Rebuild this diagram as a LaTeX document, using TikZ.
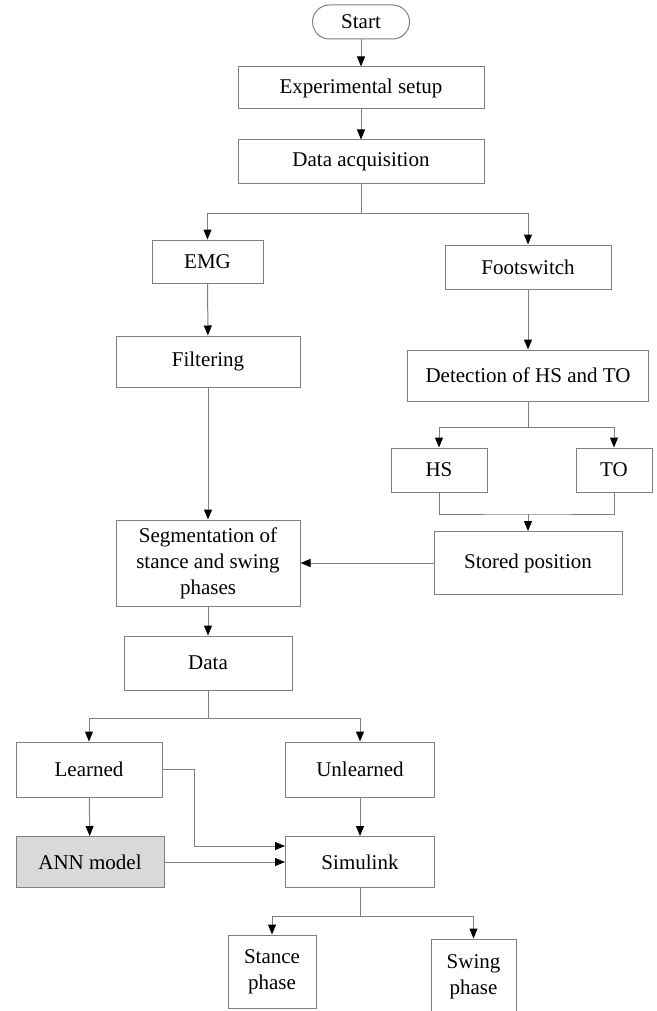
\documentclass[tikz,border=0pt]{standalone}
\usepackage{fontspec}
\setmainfont{Liberation Serif}
\usetikzlibrary{arrows.meta}
\definecolor{flowline}{HTML}{808080}
\definecolor{annfill}{HTML}{D9D9D9}
\tikzset{
  box/.style={draw=flowline,line width=1pt,fill=white,inner sep=2pt,align=center,
    font=\fontsize{21}{26}\selectfont},
  link/.style={draw=flowline,line width=1pt},
  arr/.style={link,-{Triangle[length=10pt,width=8pt,color=black]}}
}
\begin{document}
\begin{tikzpicture}[x=1pt,y=-1pt]
  \useasboundingbox (0,0) rectangle (656,1011);
  % top of the chart
  \node[box,rounded corners=17pt,minimum width=97pt,minimum height=34pt] (start) at (361,22) {Start};
  \node[box,minimum width=246pt,minimum height=42pt] (setup) at (361,88) {Experimental setup};
  \node[box,minimum width=246pt,minimum height=44pt] (acq) at (361,162) {Data acquisition};
  % EMG branch
  \node[box,minimum width=111pt,minimum height=43pt] (emg) at (207.5,261.5) {EMG};
  \node[box,minimum width=184pt,minimum height=51pt] (filt) at (208,361.5) {Filtering};
  % footswitch branch
  \node[box,minimum width=166pt,minimum height=44pt] (foot) at (528,267) {Footswitch};
  \node[box,minimum width=241pt,minimum height=51pt] (detect) at (528,375.5) {Detection of HS and TO};
  \node[box,minimum width=96pt,minimum height=44pt] (hs) at (439,470) {HS};
  \node[box,minimum width=76pt,minimum height=44pt] (to) at (614,470) {TO};
  \node[box,minimum width=188pt,minimum height=63pt] (stored) at (528,563) {Stored position};
  \node[box,minimum width=184pt,minimum height=86pt] (seg) at (208,563)
        {Segmentation of\\stance and swing\\phases};
  % data and models
  \node[box,minimum width=168pt,minimum height=54pt] (data) at (208,663) {Data};
  \node[box,minimum width=146pt,minimum height=55pt] (learned) at (89,769.5) {Learned};
  \node[box,minimum width=149pt,minimum height=55pt] (unlearned) at (360,769.5) {Unlearned};
  \node[box,fill=annfill,minimum width=148pt,minimum height=51pt] (ann) at (90,862) {ANN model};
  \node[box,minimum width=149pt,minimum height=51pt] (simulink) at (360,862) {Simulink};
  \node[box,minimum width=88pt,minimum height=73pt] (stance) at (272,971.5) {Stance\\phase};
  \node[box,minimum width=85pt,minimum height=76pt] (swing) at (473.5,977) {Swing\\phase};
  % split points
  \coordinate (s1) at (361,213);
  \coordinate (s2) at (528,427);
  \coordinate (s3) at (528,514);
  \coordinate (s4) at (208,718);
  \coordinate (s5) at (360,916);
  % connectors
  \draw[arr] (start) -- (setup);
  \draw[arr] (setup) -- (acq);
  \draw[link] (acq) -- (s1);
  \draw[arr] (s1) -| (emg);
  \draw[arr] (s1) -| (foot);
  \draw[arr] (emg) -- (filt);
  \draw[arr] (filt) -- (seg);
  \draw[arr] (foot) -- (detect);
  \draw[link] (detect) -- (s2);
  \draw[arr] (s2) -| (hs);
  \draw[arr] (s2) -| (to);
  \draw[link] (hs) |- (s3) -| (to);
  \draw[arr] (s3) -- (stored);
  \draw[arr] (stored) -- (seg);
  \draw[arr] (seg) -- (data);
  \draw[link] (data) -- (s4);
  \draw[arr] (s4) -| (learned);
  \draw[arr] (s4) -| (unlearned);
  \draw[arr] (learned) -- (ann);
  \draw[arr] (learned.east) -- ++(32,0) |- ([yshift=16pt]simulink.west);
  \draw[arr] (ann) -- (simulink);
  \draw[arr] (unlearned) -- (simulink);
  \draw[link] (simulink) -- (s5);
  \draw[arr] (s5) -| (stance);
  \draw[arr] (s5) -| (swing);
\end{tikzpicture}
\end{document}
